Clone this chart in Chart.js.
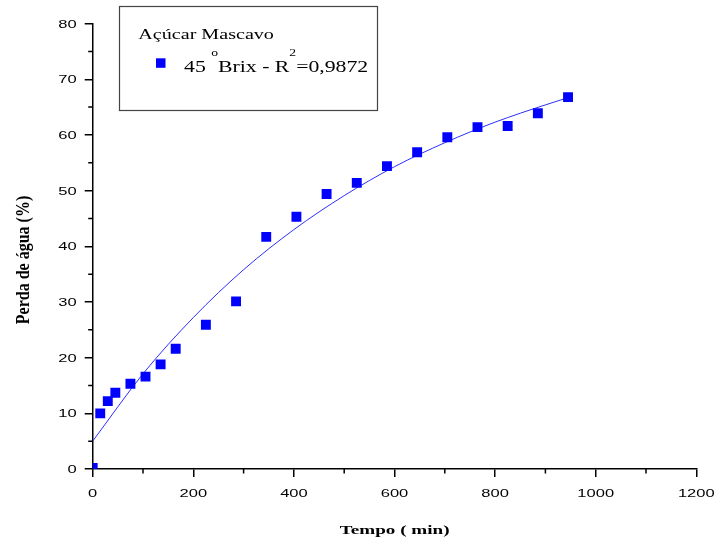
<!DOCTYPE html>
<html>
<head>
<meta charset="utf-8">
<script src="https://cdn.jsdelivr.net/npm/chart.js@4.4.0/dist/chart.umd.min.js"></script>
<style>
  html, body { margin: 0; padding: 0; background: #fff; }
  #wrap { width: 717px; height: 537px; position: relative; }
</style>
</head>
<body>
<div id="wrap"><canvas id="lossChart"></canvas></div>
<script>
// tempo (min) x perda de agua (%)
const tempo = [0, 15, 30, 45, 75, 105, 135, 165, 225, 285, 345, 405, 465, 525, 585, 645, 705, 765, 825, 885, 945];
const perda = [0.2, 10.0, 12.2, 13.7, 15.3, 16.6, 18.8, 21.6, 25.9, 30.1, 41.7, 45.3, 49.4, 51.4, 54.4, 56.9, 59.6, 61.4, 61.6, 63.9, 66.8];

// fitted curve
const ajusteX = [0, 100, 200, 300, 400, 500, 600, 700, 800, 900, 945];
const ajusteY = [5.0, 17.1, 27.2, 35.8, 43.0, 49.1, 54.3, 58.6, 62.3, 65.4, 66.7];

const xTicks = [0, 200, 400, 600, 800, 1000, 1200];
const yTicks = [0, 10, 20, 30, 40, 50, 60, 70, 80];
const xMinor = [100, 300, 500, 700, 900, 1100];
const yMinor = [5, 15, 25, 35, 45, 55, 65, 75];

const legendTitle = 'Açúcar Mascavo';
const xTitle = 'Tempo ( min)';
const yTitle = 'Perda de água (%)';

const SERIF = '"Liberation Serif", "Times New Roman", serif';
const SANS = '"Liberation Sans", Arial, sans-serif';

// text squeezed/stretched horizontally, like the original export
function wideText(ctx, text, x, y, sx, align) {
  ctx.save();
  ctx.translate(x, y);
  ctx.scale(sx, 1);
  ctx.textAlign = align || 'left';
  ctx.textBaseline = 'alphabetic';
  ctx.fillText(text, 0, 0);
  ctx.restore();
}

const decor = {
  id: 'decor',
  beforeDatasetsDraw(chart) {
    const ctx = chart.ctx, xs = chart.scales.x, ys = chart.scales.y, a = chart.chartArea;
    ctx.save();
    ctx.strokeStyle = '#000';
    ctx.lineWidth = 1.5;
    ctx.beginPath();
    xMinor.forEach(v => {
      const px = xs.getPixelForValue(v);
      ctx.moveTo(px, a.bottom);
      ctx.lineTo(px, a.bottom + 4.5);
    });
    yMinor.forEach(v => {
      const py = ys.getPixelForValue(v);
      ctx.moveTo(a.left, py);
      ctx.lineTo(a.left - 4.5, py);
    });
    ctx.stroke();
    ctx.restore();
  },
  afterDraw(chart) {
    const ctx = chart.ctx, xs = chart.scales.x, ys = chart.scales.y, a = chart.chartArea;
    ctx.save();
    ctx.fillStyle = '#000';

    // tick labels
    ctx.font = '11px ' + SANS;
    xs.ticks.forEach(t => {
      wideText(ctx, String(t.value), xs.getPixelForValue(t.value), a.bottom + 28.3, 1.5, 'center');
    });
    ys.ticks.forEach(t => {
      wideText(ctx, String(t.value), a.left - 16, ys.getPixelForValue(t.value) + 4, 1.5, 'right');
    });

    // axis titles
    ctx.font = 'bold 13px ' + SERIF;
    wideText(ctx, xTitle, 394.7, 534, 1.47, 'center');
    ctx.save();
    ctx.translate(29, 260);
    ctx.rotate(-Math.PI / 2);
    ctx.scale(1, 1.15);
    ctx.font = 'bold 16px ' + SERIF;
    ctx.textAlign = 'center';
    ctx.fillText(yTitle, 0, 0);
    ctx.restore();

    // legend box
    ctx.fillStyle = '#fff';
    ctx.fillRect(119.5, 6.5, 258, 104);
    ctx.strokeStyle = '#444';
    ctx.lineWidth = 1.2;
    ctx.strokeRect(119.5, 6.5, 258, 104);
    ctx.fillStyle = '#000';
    ctx.font = '15px ' + SERIF;
    wideText(ctx, legendTitle, 138.3, 39, 1.34);

    ctx.fillStyle = '#0000ff';
    ctx.fillRect(156, 58.3, 9.5, 9.5);

    ctx.fillStyle = '#000';
    const sx = 1.36;
    const parts = [
      ['45 ', false], ['o', true], ['Brix - R', false], ['2', true], ['=0,9872', false]
    ];
    let x = 184;
    parts.forEach(([txt, sup]) => {
      ctx.font = (sup ? '10px ' : '16px ') + SERIF;
      const w = ctx.measureText(txt).width * sx;
      wideText(ctx, txt, x, sup ? 56 : 72.3, sx);
      x += w;
    });
    ctx.restore();
  }
};

const ctx = document.getElementById('lossChart').getContext('2d');
new Chart(ctx, {
  type: 'scatter',
  data: {
    datasets: [{
      label: '45 °Brix',
      data: tempo.map((t, i) => ({ x: t, y: perda[i] })),
      pointStyle: 'rect',
      pointRadius: 7,
      pointHoverRadius: 7,
      pointBackgroundColor: '#0000ff',
      pointBorderWidth: 0,
      showLine: false
    }, {
      label: 'ajuste',
      data: ajusteX.map((t, i) => ({ x: t, y: ajusteY[i] })),
      showLine: true,
      borderColor: '#2e2eff',
      borderWidth: 1,
      pointRadius: 0,
      cubicInterpolationMode: 'monotone',
      fill: false
    }]
  },
  options: {
    responsive: true,
    maintainAspectRatio: false,
    devicePixelRatio: 1,
    animation: false,
    layout: { padding: { left: 84.7, right: 20.7, top: 23.6, bottom: 60 } },
    plugins: {
      legend: { display: false },
      tooltip: { enabled: false }
    },
    scales: {
      x: {
        type: 'linear',
        min: 0,
        max: 1200,
        afterBuildTicks: s => { s.ticks = xTicks.map(v => ({ value: v })); },
        ticks: { display: false },
        grid: { drawOnChartArea: false, drawTicks: true, tickLength: 8, color: '#000', lineWidth: 1.5 },
        border: { display: true, color: '#000', width: 1.5 }
      },
      y: {
        type: 'linear',
        min: 0,
        max: 80,
        afterBuildTicks: s => { s.ticks = yTicks.map(v => ({ value: v })); },
        ticks: { display: false },
        grid: { drawOnChartArea: false, drawTicks: true, tickLength: 8, color: '#000', lineWidth: 1.5 },
        border: { display: true, color: '#000', width: 1.5 }
      }
    }
  },
  plugins: [decor]
});
</script>
</body>
</html>
